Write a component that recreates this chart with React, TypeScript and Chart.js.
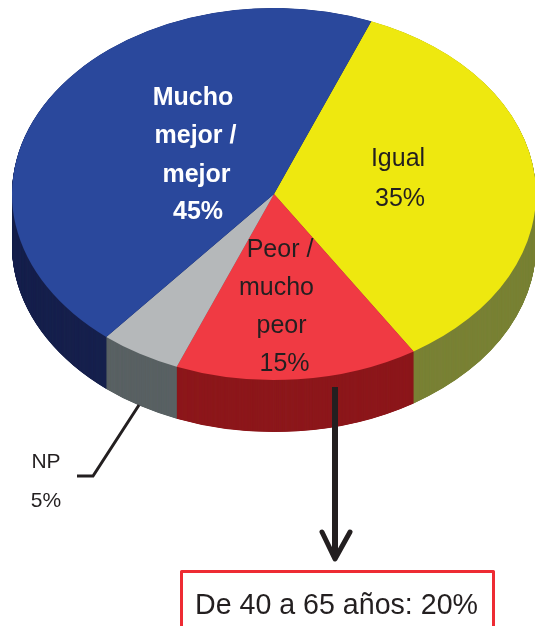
import React, { useEffect, useRef } from "react";
import { Chart, registerables } from "chart.js";

Chart.register(...registerables);

const categories = ["Igual", "Peor / mucho peor", "NP", "Mucho mejor / mejor"];
const values = [35, 15, 5, 45];
const topColors = ["#eee80f", "#f03a43", "#b5b8ba", "#2a489c"];
const sideColors = ["#7a8236", "#8d181c", "#5a6264", "#18224e"];

const FONT = '"Liberation Sans", Arial, sans-serif';
const INK = "#231f20";

const CENTER_X = 274;
const CENTER_Y = 194;
const RADIUS = 262;
const SQUASH = 0.71;
const DEPTH = 52;

const pie3d = {
  id: "pie3d",
  beforeDatasetsDraw(chart: any) {
    const ctx = chart.ctx;
    const arcs = chart.getDatasetMeta(0).data;
    const ox = arcs[0].x;
    const oy = arcs[0].y;
    const project = (shift: number) => {
      ctx.setTransform(1, 0, 0, SQUASH, CENTER_X - ox, CENTER_Y + shift - oy * SQUASH);
    };
    ctx.save();
    for (let d = DEPTH; d >= 0.25; d -= 0.25) {
      project(d);
      arcs.forEach((arc: any, i: number) => {
        const base = arc.options;
        const side = Object.create(base);
        side.backgroundColor = sideColors[i];
        arc.options = side;
        arc.draw(ctx);
        arc.options = base;
      });
    }
    project(0);
  },
  afterDatasetsDraw(chart: any) {
    const ctx = chart.ctx;
    ctx.restore();

    const text = (s: string, x: number, y: number, size: number, color = INK, bold = false, align: CanvasTextAlign = "center") => {
      ctx.font = `${bold ? "bold " : ""}${size}px ${FONT}`;
      ctx.fillStyle = color;
      ctx.textAlign = align;
      ctx.textBaseline = "alphabetic";
      ctx.fillText(s, x, y);
    };

    text("Mucho", 193, 105, 25, "#ffffff", true);
    text("mejor /", 195.5, 143, 25, "#ffffff", true);
    text("mejor", 196.5, 182, 25, "#ffffff", true);
    text(`${values[3]}%`, 198, 219, 25, "#ffffff", true);

    text("Igual", 398, 166, 25);
    text(`${values[0]}%`, 400, 206, 25);

    text("Peor /", 280, 257, 25);
    text("mucho", 276.5, 295, 25);
    text("peor", 281.5, 333, 25);
    text(`${values[1]}%`, 284.5, 371, 25);

    text("NP", 46, 468, 21);
    text(`${values[2]}%`, 46, 507, 21);

    ctx.save();
    ctx.strokeStyle = INK;
    ctx.lineWidth = 3;
    ctx.beginPath();
    ctx.moveTo(139, 405);
    ctx.lineTo(93, 476);
    ctx.lineTo(77, 476);
    ctx.stroke();

    ctx.lineWidth = 6;
    ctx.beginPath();
    ctx.moveTo(335, 387);
    ctx.lineTo(335, 556);
    ctx.stroke();
    ctx.lineCap = "round";
    ctx.lineJoin = "round";
    ctx.lineWidth = 5;
    ctx.beginPath();
    ctx.moveTo(322, 532);
    ctx.lineTo(335, 559);
    ctx.lineTo(350, 532);
    ctx.stroke();

    ctx.strokeStyle = "#ee2b33";
    ctx.lineWidth = 3;
    ctx.lineCap = "butt";
    ctx.strokeRect(181.5, 571.5, 312, 80);
    ctx.restore();

    text("De 40 a 65 años: 20%", 195, 614, 28.6, INK, false, "left");
  },
};

export default function App() {
  const ref = useRef<HTMLCanvasElement>(null);
  useEffect(() => {
    const chart = new Chart(ref.current as HTMLCanvasElement, {
      type: "pie",
      data: {
        labels: categories,
        datasets: [
          {
            data: values,
            backgroundColor: topColors,
            borderWidth: 0,
            radius: RADIUS,
            rotation: 21.8,
            clip: false,
          } as any,
        ],
      },
      options: {
        responsive: false,
        animation: false,
        events: [],
        plugins: { legend: { display: false }, tooltip: { enabled: false } },
      },
      plugins: [pie3d],
    } as any);
    return () => chart.destroy();
  }, []);
  return (
    <div style={{ position: "absolute", left: 0, top: 0, width: 535, height: 626, overflow: "hidden", background: "#fff" }}>
      <canvas ref={ref} width={535} height={626} style={{ display: "block" }} />
    </div>
  );
}
